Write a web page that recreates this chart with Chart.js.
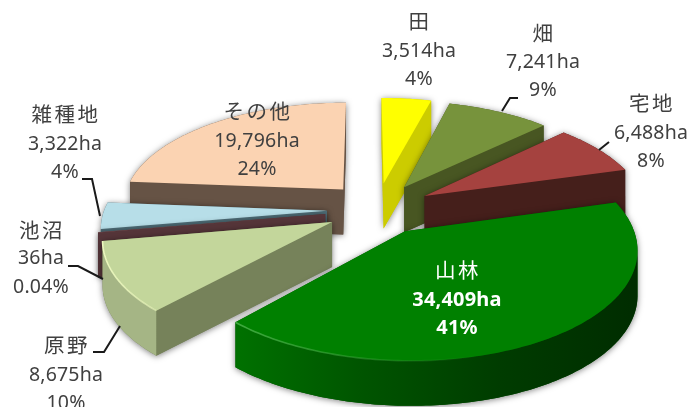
<!DOCTYPE html>
<html lang="ja">
<head>
<meta charset="utf-8">
<title>土地利用面積</title>
<style>
  html, body { margin: 0; padding: 0; background: #fff; }
  canvas { display: block; }
</style>
<script src="https://cdn.jsdelivr.net/npm/chart.js@4"></script>
</head>
<body>
<canvas id="landUse" width="690" height="407"></canvas>
<script>
// Land use by category, in hectares, clockwise from twelve o'clock.
const categories = ['田', '畑', '宅地', '山林', '原野', '池沼', '雑種地', 'その他'];
const areas = [3514, 7241, 6488, 34409, 8675, 36, 3322, 19796];
const areaLabels = ['3,514ha', '7,241ha', '6,488ha', '34,409ha', '8,675ha', '36ha', '3,322ha', '19,796ha'];
const shareLabels = ['4%', '9%', '8%', '41%', '10%', '0.04%', '4%', '24%'];

const topColors = ['#FFFF00', '#77933C', '#A5423F', '#008000', '#C3D69B', '#8A5A5C', '#B7DEE8', '#FBD3B2'];
const sideColors = ['#CCCC00', '#485622', '#451F1B', '#005000', '#76825A', '#553539', '#4E6C76', '#665345'];
const rimColors = ['#CCCC00', '#485622', '#451F1B', '#005000', '#A5B585', '#553539', '#4E6C76', '#665345'];

// How far each slice is pulled out of the pie, in units of the pie radius.
const explodeAcross = [0.082, 0.177, 0.268, 0.17, -0.15, -0.182, -0.175, -0.105];
const explodeDepth = [-0.176, -0.137, -0.05, 0.285, 0.2, 0.125, 0.095, -0.114];

// Text blocks and their leader lines, keyed by slice.
const labelCenters = [[419, 21], [543, 33], [651, 103], [457, 270], [66, 345], [41, 230], [65, 114], [257, 111]];
const lineGaps = [[30, 28], [29, 28], [30, 28], [30, 28], [30, 28], [28, 29], [30, 28], [30, 28]];
const leaders = [
  null,
  [[502, 111], [510, 98], [518, 98]],
  [[599, 150], [609, 142]],
  null,
  [[93, 352], [104, 352], [120, 326]],
  [[68, 266], [78, 266], [103, 279]],
  [[82, 179], [92, 179], [100, 216]],
  null
];

const view = { cx: 366, cy: 201, rx: 220, ry: 102, perspective: 0.14, height: 45 };

// Maps a point on the pie's plane (radius 1) to the canvas, nearer points drawn larger.
function project(u, v) {
  const s = 1 / (1 - view.perspective * v);
  return { x: view.cx + view.rx * u * s, y: view.cy + view.ry * v * s };
}

function convexHull(points) {
  const p = points.slice().sort((a, b) => a.x - b.x || a.y - b.y);
  const cross = (o, a, b) => (a.x - o.x) * (b.y - o.y) - (a.y - o.y) * (b.x - o.x);
  const half = list => {
    const out = [];
    for (const q of list) {
      while (out.length > 1 && cross(out[out.length - 2], out[out.length - 1], q) <= 0) out.pop();
      out.push(q);
    }
    out.pop();
    return out;
  };
  return half(p).concat(half(p.reverse()));
}

function fillPoly(ctx, points, color) {
  ctx.beginPath();
  points.forEach((q, i) => (i ? ctx.lineTo(q.x, q.y) : ctx.moveTo(q.x, q.y)));
  ctx.closePath();
  ctx.fillStyle = color;
  ctx.fill();
}

function rimStyle(ctx, index) {
  if (index !== 3) return rimColors[index];
  const g = ctx.createLinearGradient(240, 0, 640, 0);
  g.addColorStop(0, '#007000');
  g.addColorStop(0.3, '#005500');
  g.addColorStop(0.65, '#003c00');
  g.addColorStop(1, '#002c00');
  return g;
}

// Draws the pie arcs as raised slices seen from above; the angles come from the arc elements.
const raisedPie = {
  id: 'raisedPie',
  beforeDatasetDraw(chart, args) {
    const ctx = chart.ctx;
    const arcs = args.meta.data;
    const slices = arcs.map((arc, i) => {
      const steps = Math.max(2, Math.ceil((arc.endAngle - arc.startAngle) / (Math.PI / 180)));
      const outer = [];
      for (let k = 0; k <= steps; k++) {
        const a = arc.startAngle + (arc.endAngle - arc.startAngle) * k / steps;
        outer.push(project(explodeAcross[i] + Math.cos(a), explodeDepth[i] + Math.sin(a)));
      }
      const mid = (arc.startAngle + arc.endAngle) / 2;
      return {
        i, outer,
        apex: project(explodeAcross[i], explodeDepth[i]),
        depth: explodeDepth[i] + Math.sin(mid) / 2
      };
    }).sort((a, b) => a.depth - b.depth);

    ctx.save();
    for (const s of slices) {
      const top = [s.apex, ...s.outer];
      const drop = q => ({ x: q.x, y: q.y + view.height });
      const hull = convexHull(top.concat(top.map(drop)));

      ctx.save();
      ctx.shadowColor = 'rgba(0,0,0,0.5)';
      ctx.shadowBlur = 6;
      ctx.shadowOffsetY = 1;
      fillPoly(ctx, hull, sideColors[s.i]);
      ctx.restore();

      // Straight cut faces: an edge running right to left on screen faces the viewer.
      const last = s.outer[s.outer.length - 1];
      const first = s.outer[0];
      if (first.x < s.apex.x) fillPoly(ctx, [s.apex, first, drop(first), drop(s.apex)], sideColors[s.i]);
      if (s.apex.x < last.x) fillPoly(ctx, [last, s.apex, drop(s.apex), drop(last)], sideColors[s.i]);

      // The curved outer face, as one shape over the part of the arc that faces the viewer.
      let from = -1;
      let to = -1;
      for (let k = 0; k < s.outer.length - 1; k++) {
        if (s.outer[k + 1].x < s.outer[k].x) {
          if (from < 0) from = k;
          to = k + 1;
        }
      }
      if (from >= 0) {
        const run = s.outer.slice(from, to + 1);
        fillPoly(ctx, run.concat(run.map(drop).reverse()), rimStyle(ctx, s.i));
      }

      fillPoly(ctx, top, topColors[s.i]);

      // Bevel catching the light along the near rim.
      if (s.i === 3 || s.i === 4) {
        const g = ctx.createLinearGradient(last.x, 0, s.i === 3 ? 480 : 170, 0);
        g.addColorStop(0, s.i === 3 ? 'rgba(70,175,70,0.9)' : 'rgba(236,248,190,1)');
        g.addColorStop(1, s.i === 3 ? 'rgba(70,175,70,0)' : 'rgba(236,248,190,0.5)');
        ctx.beginPath();
        s.outer.forEach((q, k) => (k ? ctx.lineTo(q.x, q.y) : ctx.moveTo(q.x, q.y)));
        ctx.strokeStyle = g;
        ctx.lineWidth = 1.6;
        ctx.stroke();
      }
    }
    ctx.restore();
    return false;
  },
  afterDatasetsDraw(chart) {
    const ctx = chart.ctx;
    ctx.save();
    ctx.strokeStyle = '#1a1a1a';
    ctx.lineWidth = 2;
    ctx.lineJoin = 'miter';
    leaders.forEach(path => {
      if (!path) return;
      ctx.beginPath();
      path.forEach(([x, y], k) => (k ? ctx.lineTo(x, y) : ctx.moveTo(x, y)));
      ctx.stroke();
    });

    ctx.textAlign = 'center';
    ctx.textBaseline = 'middle';
    categories.forEach((name, i) => {
      const [x, y] = labelCenters[i];
      const [g1, g2] = lineGaps[i];
      const onGreen = i === 3;
      ctx.fillStyle = onGreen ? '#FFFFFF' : '#404040';
      ctx.font = '20.5px "Noto Sans CJK JP"';
      ctx.letterSpacing = '2.5px';
      ctx.fillText(name, x + 1, y);
      ctx.font = (onGreen ? 'bold 20px' : '19.5px') + ' "Noto Sans"';
      ctx.letterSpacing = '0.2px';
      ctx.fillText(areaLabels[i], x, y + g1);
      ctx.fillText(shareLabels[i], x, y + g1 + g2);
    });
    ctx.restore();
  }
};

new Chart(document.getElementById('landUse'), {
  type: 'pie',
  data: {
    labels: categories,
    datasets: [{ data: areas, backgroundColor: topColors, borderWidth: 0 }]
  },
  options: {
    responsive: false,
    animation: false,
    plugins: { legend: { display: false }, tooltip: { enabled: false } }
  },
  plugins: [raisedPie]
});
</script>
</body>
</html>
